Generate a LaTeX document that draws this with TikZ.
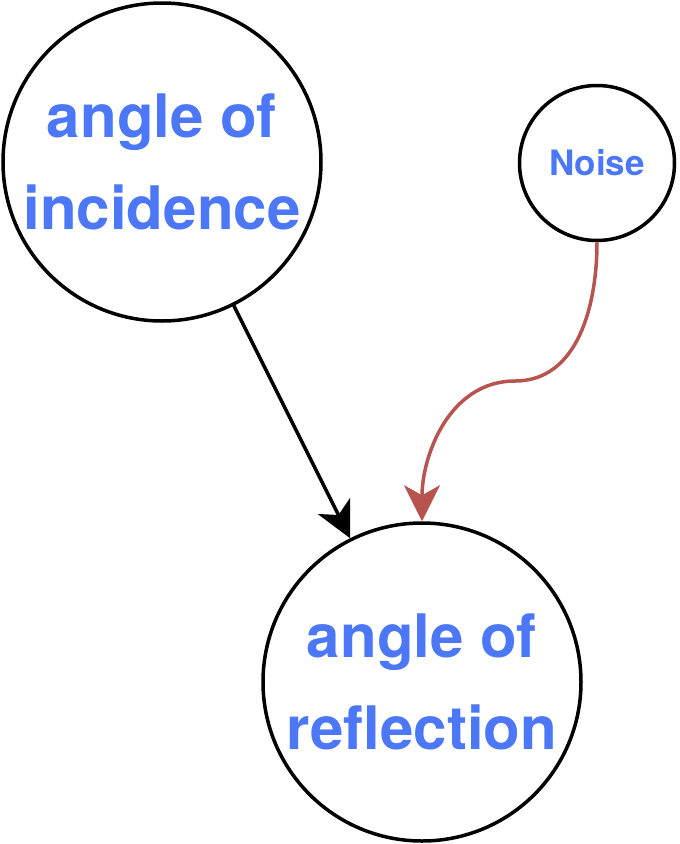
\documentclass[tikz,border=0pt]{standalone}
\usepackage{fontspec}
\setmainfont{TeX Gyre Heros}
\usepackage{tikz}
\usetikzlibrary{arrows.meta}
\definecolor{labelblue}{RGB}{76,120,247}
\definecolor{noisered}{RGB}{184,84,80}

\begin{document}
\begin{tikzpicture}[x=1pt,y=-1pt,line width=3.5pt,
    var/.style={circle,draw,align=center,text=labelblue,font=\bfseries\fontsize{60}{92}\selectfont,minimum size=318pt,inner sep=0pt},
    >={Stealth[length=36pt,width=36pt,inset=10pt]}]
  \useasboundingbox (0,0) rectangle (680,844);
  			\node[var]  (inc) at (162,162)  {angle of\\incidence};
  			\node[var,minimum size=155pt,font=\bfseries\fontsize{35}{40}\selectfont] (noise) at (597,163) {Noise};
            \node[var]  (refl) at (422,682)  {angle of\\reflection};
            \coordinate (bend) at (515,381);

  			\path[->] 
                     (inc) edge (refl);
            \draw[->,noisered] (noise.south) to[out=-90,in=0] (bend) to[out=180,in=90] (refl.north);
		\end{tikzpicture}
\end{document}
